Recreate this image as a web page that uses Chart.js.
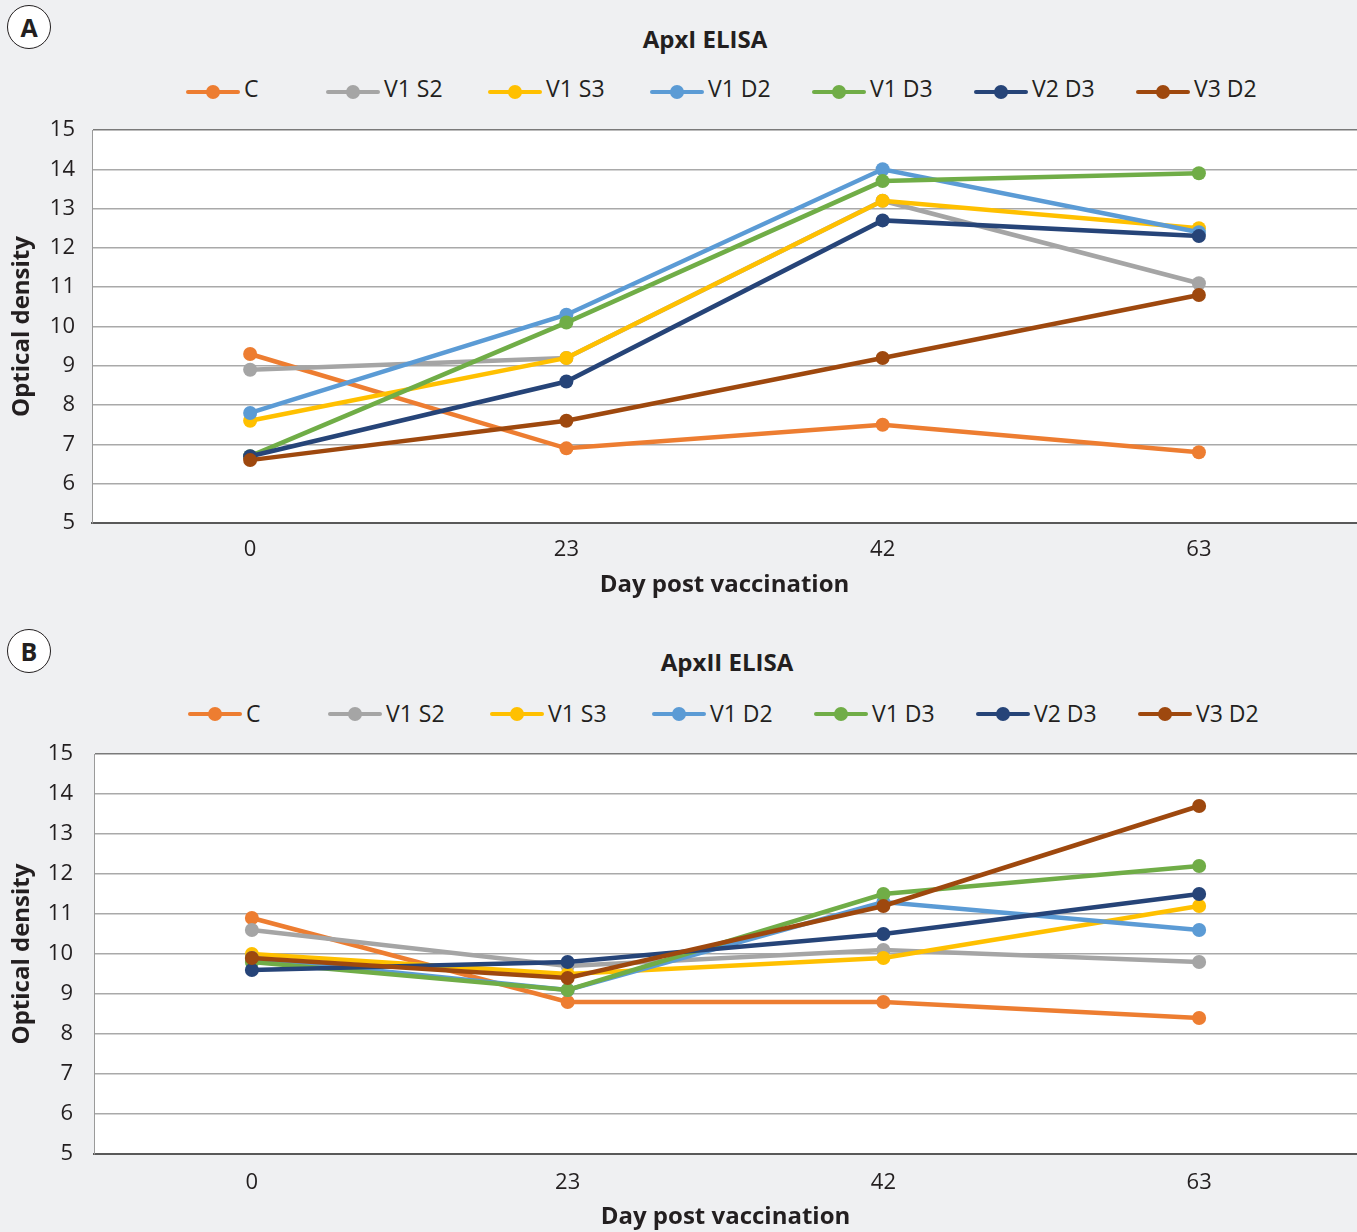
<!DOCTYPE html>
<html>
<head>
<meta charset="utf-8">
<title>ApxI / ApxII ELISA</title>
<script src="https://cdn.jsdelivr.net/npm/chart.js@4/dist/chart.umd.min.js"></script>
<style>
  html, body { margin: 0; padding: 0; background: #eff0f2; }
  body { width: 1357px; height: 1232px; position: relative; overflow: hidden;
         font-family: "Open Sans", sans-serif; color: #231f20; }
  .panel { position: absolute; left: 0; width: 1357px; }
  .panel canvas { position: absolute; left: 0; top: 0; }
  .tag { position: absolute; width: 42px; height: 42px; border: 1.5px solid #231f20; border-radius: 50%;
         background: #fff; font-weight: 700; font-size: 25px; line-height: 42px; text-align: center; }
  .title { position: absolute; white-space: nowrap; transform: translateX(-50%);
           font-weight: 700; font-size: 24px; line-height: 30px; }
  .legend { position: absolute; display: flex; gap: 43px; white-space: nowrap; }
  .legend .item { display: flex; align-items: flex-start; width: 119px; flex: none; }
  .legend .item:first-child { width: 97px; }
  .legend .sym { position: relative; width: 54px; height: 14px; flex: none; }
  .legend .sym .ln { position: absolute; left: 0; right: 0; top: 5px; height: 4px; border-radius: 2px; }
  .legend .sym .dt { position: absolute; left: 20px; top: 0; width: 14px; height: 14px; border-radius: 50%; }
  .legend .txt { margin-left: 4px; font-size: 23px; line-height: 30px; }
</style>
</head>
<body>
<div class="panel" id="panelA" style="top:0;height:616px;">
  <div class="tag" style="left:7px;top:5px;">A</div>
  <div class="title" id="titleA" style="left:705px;top:24px;">ApxI ELISA</div>
  <div class="legend" id="legendA" style="left:186px;top:73px;"></div>
  <canvas id="chartA" width="1357" height="616"></canvas>
</div>
<div class="panel" id="panelB" style="top:616px;height:616px;">
  <div class="tag" style="left:7px;top:13px;">B</div>
  <div class="title" id="titleB" style="left:727px;top:31px;">ApxII ELISA</div>
  <div class="legend" id="legendB" style="left:188px;top:82px;"></div>
  <canvas id="chartB" width="1357" height="616"></canvas>
</div>

<script>
// Sampling days and vaccine groups
const days = ['0', '23', '42', '63'];
const groups = ['C', 'V1 S2', 'V1 S3', 'V1 D2', 'V1 D3', 'V2 D3', 'V3 D2'];
const groupColors = ['#ED7D31', '#A5A5A5', '#FFC000', '#5B9BD5', '#70AD47', '#264478', '#9E480E'];
const yTicks = [5, 6, 7, 8, 9, 10, 11, 12, 13, 14, 15];

// ApxI ELISA, optical density per group
const apxI_C    = [9.3, 6.9, 7.5, 6.8];
const apxI_V1S2 = [8.9, 9.2, 13.2, 11.1];
const apxI_V1S3 = [7.6, 9.2, 13.2, 12.5];
const apxI_V1D2 = [7.8, 10.3, 14.0, 12.4];
const apxI_V1D3 = [6.7, 10.1, 13.7, 13.9];
const apxI_V2D3 = [6.7, 8.6, 12.7, 12.3];
const apxI_V3D2 = [6.6, 7.6, 9.2, 10.8];

// ApxII ELISA, optical density per group
const apxII_C    = [10.9, 8.8, 8.8, 8.4];
const apxII_V1S2 = [10.6, 9.7, 10.1, 9.8];
const apxII_V1S3 = [10.0, 9.5, 9.9, 11.2];
const apxII_V1D2 = [9.9, 9.1, 11.3, 10.6];
const apxII_V1D3 = [9.8, 9.1, 11.5, 12.2];
const apxII_V2D3 = [9.6, 9.8, 10.5, 11.5];
const apxII_V3D2 = [9.9, 9.4, 11.2, 13.7];

const apxISeries  = [apxI_C, apxI_V1S2, apxI_V1S3, apxI_V1D2, apxI_V1D3, apxI_V2D3, apxI_V3D2];
const apxIISeries = [apxII_C, apxII_V1S2, apxII_V1S3, apxII_V1D2, apxII_V1D3, apxII_V2D3, apxII_V3D2];

const INK = '#231f20';
const FONT = "'Open Sans', sans-serif";
Chart.defaults.font.family = FONT;
Chart.defaults.color = INK;

// white plot area behind the grid
const plotBackground = {
  id: 'plotBackground',
  beforeDraw(chart) {
    const {ctx, chartArea: a} = chart;
    ctx.save();
    ctx.fillStyle = '#ffffff';
    ctx.fillRect(a.left, a.top, a.right - a.left, a.bottom - a.top);
    ctx.restore();
  }
};

function buildDatasets(series) {
  return series.map((values, i) => ({
    label: groups[i],
    data: values,
    borderColor: groupColors[i],
    backgroundColor: groupColors[i],
    pointBackgroundColor: groupColors[i],
    pointBorderColor: groupColors[i],
    borderWidth: 4.5,
    pointRadius: 7,
    pointBorderWidth: 0,
    tension: 0,
    // later groups are painted over earlier ones
    order: series.length - 1 - i
  }));
}

function renderLegend(chart, containerId, symTop) {
  const box = document.getElementById(containerId);
  const items = chart.options.plugins.legend.labels.generateLabels(chart)
    .sort((a, b) => a.datasetIndex - b.datasetIndex);
  box.innerHTML = '';
  items.forEach(item => {
    const el = document.createElement('div');
    el.className = 'item';
    const sym = document.createElement('div');
    sym.className = 'sym';
    sym.style.marginTop = symTop + 'px';
    const ln = document.createElement('div');
    ln.className = 'ln';
    ln.style.background = item.strokeStyle;
    const dt = document.createElement('div');
    dt.className = 'dt';
    dt.style.background = item.strokeStyle;
    sym.appendChild(ln);
    sym.appendChild(dt);
    const txt = document.createElement('span');
    txt.className = 'txt';
    txt.textContent = item.text;
    el.appendChild(sym);
    el.appendChild(txt);
    box.appendChild(el);
  });
}

function makeChart(canvasId, series, p) {
  return new Chart(document.getElementById(canvasId), {
    type: 'line',
    data: { labels: days, datasets: buildDatasets(series) },
    options: {
      responsive: false,
      animation: false,
      events: [],
      layout: { autoPadding: false, padding: { top: p.top, left: 0, right: 0, bottom: p.bottom } },
      plugins: {
        legend: { display: false },
        tooltip: { enabled: false },
        title: { display: false }
      },
      scales: {
        x: {
          type: 'category',
          offset: true,
          grid: { display: false, drawTicks: false },
          border: { display: true, color: '#595959', width: 2 },
          ticks: { padding: p.xPad, color: INK, font: { size: 22 } },
          title: {
            display: true, text: 'Day post vaccination', color: INK,
            font: { size: 24, weight: 'bold' }, padding: { top: 0, bottom: 0 }
          },
          afterFit(scale) { scale.height = p.xHeight; }
        },
        y: {
          min: 5, max: 15,
          afterBuildTicks(scale) { scale.ticks = yTicks.map(v => ({ value: v })); },
          grid: {
            drawTicks: false,
            lineWidth: 1.5,
            color: ctx => (ctx.tick && ctx.tick.value === 15) ? '#7a7a7a' : '#a9a9a9'
          },
          border: { display: true, color: '#9a9a9a', width: 1 },
          ticks: { padding: p.yPad, color: INK, font: { size: 22 } },
          title: {
            display: true, text: 'Optical density', color: INK,
            font: { size: 24, weight: 'bold' }, padding: { top: 8, bottom: 0 }
          },
          afterFit(scale) { scale.width = p.left; }
        }
      }
    },
    plugins: [plotBackground]
  });
}

const chartA = makeChart('chartA', apxISeries,
  { top: 130, bottom: 16.6, left: 92, xHeight: 76.4, xPad: 14, yPad: 17 });
const chartB = makeChart('chartB', apxIISeries,
  { top: 138, bottom: 0.6, left: 94, xHeight: 77.4, xPad: 16, yPad: 21 });

renderLegend(chartA, 'legendA', 12);
renderLegend(chartB, 'legendB', 9);
</script>
</body>
</html>
